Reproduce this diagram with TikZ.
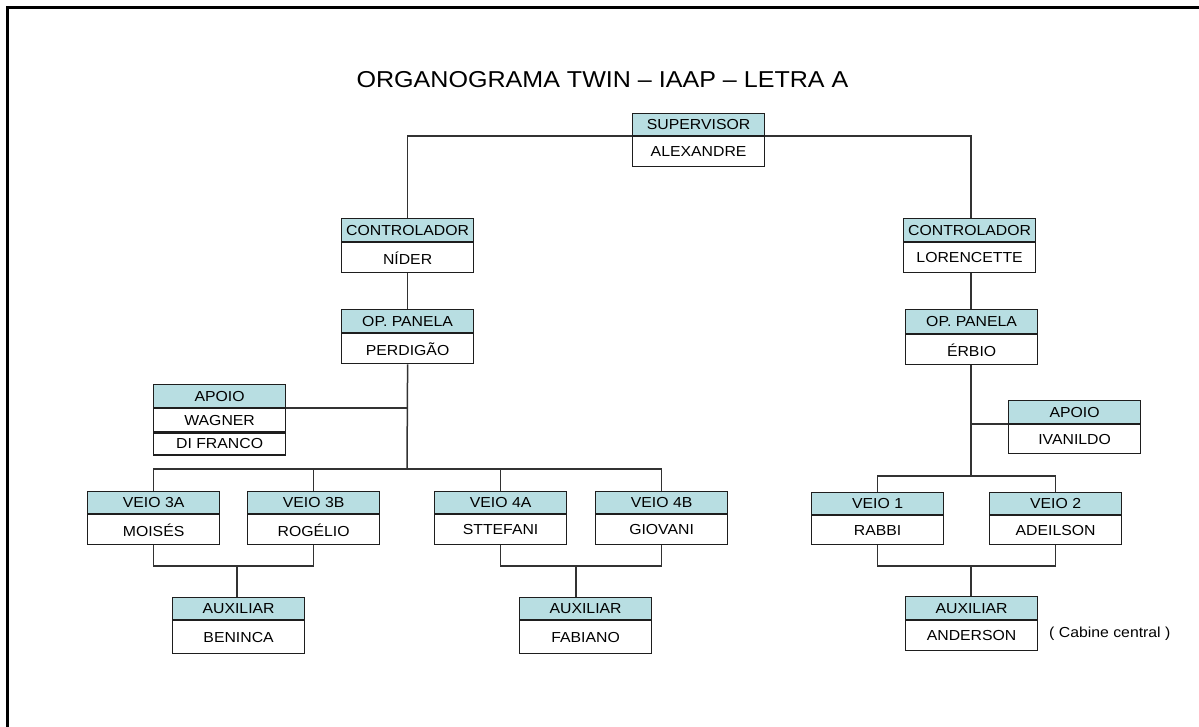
\documentclass[tikz,border=0pt]{standalone}
\usepackage{fontspec}
\setmainfont{Liberation Sans}[FakeStretch=1.09]
\definecolor{hdrfill}{RGB}{184,222,226}
\definecolor{boxline}{RGB}{30,30,30}
\definecolor{linkgray}{RGB}{50,50,50}
\newcommand\lblfont{\fontsize{14.5}{17}\selectfont}
\tikzset{
  hdr/.style={draw=boxline, fill=hdrfill, line width=1.2pt, minimum width=132pt,
    minimum height=22pt, inner sep=0pt, anchor=north west, font=\lblfont},
  bodybox/.style={draw=boxline, fill=white, line width=1.2pt, minimum width=132pt,
    minimum height=30pt, inner sep=0pt, anchor=north west, font=\lblfont},
  link/.style={draw=linkgray, line width=1.5pt}
}
\begin{document}
\begin{tikzpicture}[x=1pt, y=-1pt]
\useasboundingbox (0,0) rectangle (1199,727);
% open page frame
\draw[line width=3pt, line cap=rect] (7,727) -- (7,8) -- (1199,8);

% title
\node[anchor=base, font=\fontsize{23}{27}\selectfont, inner sep=0pt] (title) at (602.5,87.3)
  {ORGANOGRAMA TWIN – IAAP – LETRA A};

% supervisor
\node[hdr] (supH) at (632,113) {SUPERVISOR};
\node[bodybox] (supB) at (supH.south west) {ALEXANDRE};

% left branch
\node[hdr, minimum height=23pt] (ctlLH) at (341,218) {CONTROLADOR};
\node[bodybox] (ctlLB) at (ctlLH.south west) {NÍDER};
\node[hdr, minimum height=23pt] (opLH) at (341,309) {OP. PANELA};
\node[bodybox] (opLB) at (opLH.south west) {PERDIGÃO};
\node[hdr, minimum height=23pt] (apLH) at (153,384) {APOIO};
\node[bodybox, minimum height=23pt] (apLB) at (apLH.south west) {WAGNER};
\node[bodybox, minimum height=22pt] (apLC) at (apLB.south west) {DI FRANCO};

\node[hdr] (v3aH) at (87,491) {VEIO 3A};
\node[bodybox] (v3aB) at (v3aH.south west) {MOISÉS};
\node[hdr] (v3bH) at (247,491) {VEIO 3B};
\node[bodybox] (v3bB) at (v3bH.south west) {ROGÉLIO};
\node[hdr] (v4aH) at (434,491) {VEIO 4A};
\node[bodybox] (v4aB) at (v4aH.south west) {STTEFANI};
\node[hdr] (v4bH) at (595,491) {VEIO 4B};
\node[bodybox] (v4bB) at (v4bH.south west) {GIOVANI};

\node[hdr] (auxLH) at (172,597) {AUXILIAR};
\node[bodybox, minimum height=33pt] (auxLB) at (auxLH.south west) {BENINCA};
\node[hdr] (auxMH) at (519,597) {AUXILIAR};
\node[bodybox, minimum height=33pt] (auxMB) at (auxMH.south west) {FABIANO};

% right branch
\node[hdr, minimum height=23pt] (ctlRH) at (903,218) {CONTROLADOR};
\node[bodybox] (ctlRB) at (ctlRH.south west) {LORENCETTE};
\node[hdr, minimum height=24pt] (opRH) at (905,309) {OP. PANELA};
\node[bodybox] (opRB) at (opRH.south west) {ÉRBIO};
\node[hdr, minimum height=23pt] (apRH) at (1008,400) {APOIO};
\node[bodybox, minimum height=29pt] (apRB) at (apRH.south west) {IVANILDO};

\node[hdr] (v1H) at (811,492) {VEIO 1};
\node[bodybox, minimum height=29pt] (v1B) at (v1H.south west) {RABBI};
\node[hdr] (v2H) at (989,492) {VEIO 2};
\node[bodybox, minimum height=29pt] (v2B) at (v2H.south west) {ADEILSON};

\node[hdr, minimum height=23pt] (auxRH) at (905,596) {AUXILIAR};
\node[bodybox] (auxRB) at (auxRH.south west) {ANDERSON};
\node[anchor=base west, font=\fontsize{14.5}{17}\selectfont, inner sep=0pt] (note) at (1049,637)
  {( Cabine central )};

% junction points
\coordinate (busL) at (407,469);
\coordinate (busR) at (971,476);
\coordinate (jL) at (237,566);
\coordinate (jM) at (576,566);
\coordinate (jR) at (971,566);

% connectors: supervisor to controllers
\draw[link] (ctlLH.north) |- (supB.north west);
\draw[link] (ctlRH.north -| busR) |- (supB.north east);
\draw[link] (ctlLB.south) -- (opLH.north);
\draw[link] (ctlRB.south -| busR) -- (opRH.north -| busR);

% left trunk and bus
\draw[link] (opLB.south) -- (busL);
\draw[link] (apLB.north east) -- (apLB.north east -| busL);
\draw[link] (v3aH.north) -- (v3aH.north |- busL) -- (v4bH.north |- busL) -- (v4bH.north);
\draw[link] (v3bH.north) -- (v3bH.north |- busL);
\draw[link] (v4aH.north) -- (v4aH.north |- busL);
\draw[link] (v3aB.south) |- (jL) -| (v3bB.south);
\draw[link] (jL) -- (jL |- auxLH.north);
\draw[link] (v4aB.south) |- (jM) -| (v4bB.south);
\draw[link] (jM) -- (jM |- auxMH.north);

% right trunk and bus
\draw[link] (opRB.south -| busR) -- (busR);
\draw[link] (apRB.north west) -- (apRB.north west -| busR);
\draw[link] (v1H.north) -- (v1H.north |- busR) -- (v2H.north |- busR) -- (v2H.north);
\draw[link] (v1B.south) |- (jR) -| (v2B.south);
\draw[link] (jR) -- (jR |- auxRH.north);
\end{tikzpicture}
\end{document}
